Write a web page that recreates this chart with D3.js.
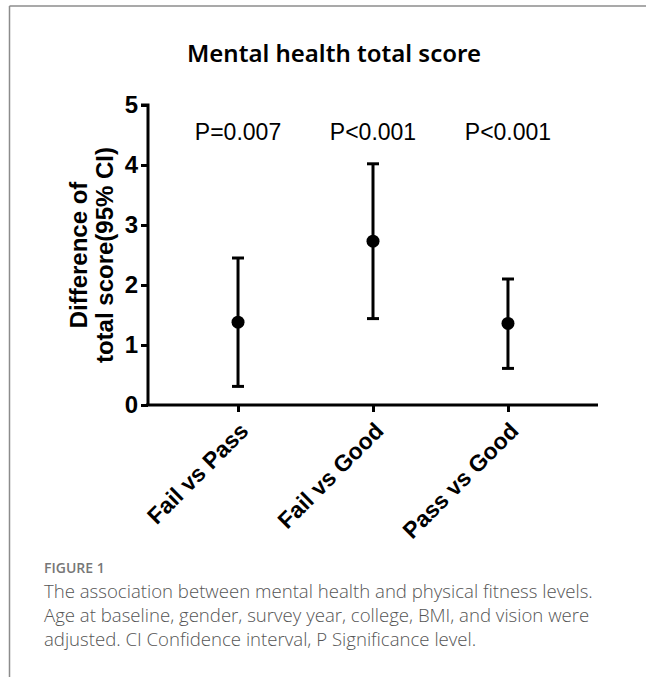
<!DOCTYPE html>
<html>
<head>
<meta charset="utf-8">
<script src="https://cdn.jsdelivr.net/npm/d3@7"></script>
<style>
  body { margin: 0; background: #fff; }
</style>
</head>
<body>
<div id="chart-area"></div>
<script>
// comparisons and their estimates (difference of total score, 95% CI)
var groups = ["Fail vs Pass", "Fail vs Good", "Pass vs Good"];
var means = [1.38, 2.73, 1.36];
var lower = [0.31, 1.44, 0.61];
var upper = [2.45, 4.02, 2.10];
var pLabels = ["P=0.007", "P<0.001", "P<0.001"];
var yTicks = [0, 1, 2, 3, 4, 5];
var captionLines = [
  "The association between mental health and physical fitness levels.",
  "Age at baseline, gender, survey year, college, BMI, and vision were",
  "adjusted. CI Confidence interval, P Significance level."
];

var data = groups.map((g, i) => {
  return {name: g, mean: means[i], lo: lower[i], hi: upper[i], p: pLabels[i]};
});

var svg = d3.select("#chart-area").append("svg").attr("width", 646).attr("height", 677);

// frame lines
svg.append("line").attr("x1", 9.5).attr("y1", 6).attr("x2", 646).attr("y2", 6)
  .attr("stroke", "#8c8c8c").attr("stroke-width", 1.5);
svg.append("line").attr("x1", 9.5).attr("y1", 6).attr("x2", 9.5).attr("y2", 677)
  .attr("stroke", "#8c8c8c").attr("stroke-width", 1.5);

var x = d3.scalePoint()
  .domain(groups)
  .range([148, 598])
  .padding(0.667);
var y = d3.scaleLinear()
  .domain([0, 5])
  .range([405, 105]);

svg.append("text")
  .attr("x", 334).attr("y", 62)
  .attr("text-anchor", "middle")
  .style("font-family", "'Noto Sans', sans-serif")
  .style("font-size", "24px")
  .style("font-weight", "600")
  .text("Mental health total score");

// y axis
var yAxis = svg.append("g")
  .attr("transform", "translate(148,0)")
  .call(d3.axisLeft(y).tickValues(yTicks).tickFormat(d3.format("d")).tickSize(7).tickPadding(3));
yAxis.select(".domain").attr("stroke-width", 3).attr("d", "M-7," + y(5) + "H0V" + y(0));
yAxis.selectAll(".tick line").attr("stroke-width", 3);
yAxis.selectAll("text")
  .style("font-family", "Arial, 'Liberation Sans', sans-serif")
  .style("font-size", "24px").style("font-weight", "bold").attr("fill", "#000");

// x axis
var xAxis = svg.append("g")
  .attr("transform", "translate(0,405)")
  .call(d3.axisBottom(x).tickSize(7).tickSizeOuter(0));
xAxis.select(".domain").attr("stroke-width", 3).attr("d", "M146,0H598");
xAxis.selectAll(".tick line").attr("stroke-width", 3);
xAxis.selectAll("text")
  .style("font-family", "Arial, 'Liberation Sans', sans-serif")
  .style("font-size", "23px").style("font-weight", "bold").attr("fill", "#000")
  .attr("text-anchor", "end")
  .attr("transform", "translate(0,16) rotate(-45)")
  .attr("dy", "0.7em").attr("y", 0);

// y axis title
var yTitle = svg.append("text")
  .attr("transform", "translate(87,255) rotate(-90)")
  .attr("text-anchor", "middle")
  .style("font-family", "Arial, 'Liberation Sans', sans-serif")
  .style("font-size", "24px").style("font-weight", "bold");
yTitle.append("tspan").attr("x", 0).attr("y", 0).text("Difference of");
yTitle.append("tspan").attr("x", 0).attr("y", 26).text("total score(95% CI)");

// error bars
var g = svg.append("g");
g.selectAll(".ci").data(data).enter().append("line")
  .attr("x1", (d) => x(d.name)).attr("x2", (d) => x(d.name))
  .attr("y1", (d) => y(d.lo)).attr("y2", (d) => y(d.hi))
  .attr("stroke", "#000").attr("stroke-width", 3);
g.selectAll(".capHi").data(data).enter().append("line")
  .attr("x1", (d) => x(d.name) - 6).attr("x2", (d) => x(d.name) + 6)
  .attr("y1", (d) => y(d.hi)).attr("y2", (d) => y(d.hi))
  .attr("stroke", "#000").attr("stroke-width", 3);
g.selectAll(".capLo").data(data).enter().append("line")
  .attr("x1", (d) => x(d.name) - 6).attr("x2", (d) => x(d.name) + 6)
  .attr("y1", (d) => y(d.lo)).attr("y2", (d) => y(d.lo))
  .attr("stroke", "#000").attr("stroke-width", 3);
g.selectAll("circle").data(data).enter().append("circle")
  .attr("cx", (d) => x(d.name)).attr("cy", (d) => y(d.mean))
  .attr("r", 6.5).attr("fill", "#000");

// p values
g.selectAll(".pval").data(data).enter().append("text")
  .attr("x", (d) => x(d.name)).attr("y", 140)
  .attr("text-anchor", "middle")
  .style("font-family", "Arial, 'Liberation Sans', sans-serif")
  .style("font-size", "23px")
  .text((d) => d.p);

// caption
svg.append("text")
  .attr("x", 44).attr("y", 573)
  .style("font-family", "'Open Sans', sans-serif")
  .style("font-size", "14px").style("font-weight", "600")
  .attr("fill", "#777")
  .text("FIGURE 1");
svg.selectAll(".cap").data(captionLines).enter().append("text")
  .attr("x", 44).attr("y", (d, i) => 598 + i * 24)
  .style("font-family", "'Open Sans', sans-serif")
  .style("font-size", "18.6px").style("font-weight", "300")
  .attr("fill", "#555")
  .text((d) => d);
</script>
</body>
</html>
